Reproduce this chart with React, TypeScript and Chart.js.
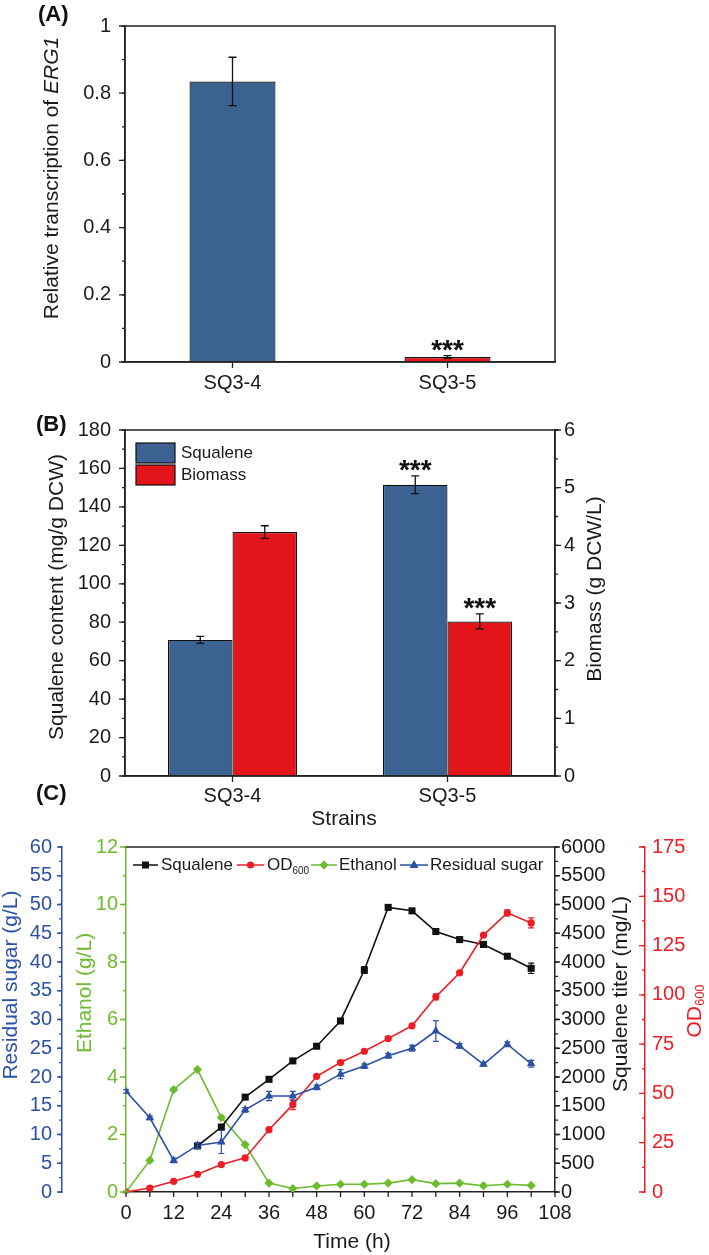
import React, { useEffect, useRef } from 'react';
import { Chart, registerables } from 'chart.js';

Chart.register(...registerables);

const FONT = '"Liberation Sans", Arial, Helvetica, sans-serif';
const TXT = '#1a1a1a';
const AXIS = '#222222';
const BAR_BLUE = '#3B6290';
const BAR_RED = '#E3151A';
const C_BLACK = '#111111';
const C_RED = '#EE1C24';
const C_GREEN = '#6DBB2E';
const C_BLUE = '#2B51A5';

// ---------- Panel A: relative transcription of ERG1
const strainsA = ['SQ3-4', 'SQ3-5'];
const erg1Transcription = [0.835, 0.015];
const erg1Error = [0.072, 0.004];
const erg1Signif = ['', '***'];

// ---------- Panel B: squalene content and biomass
const strainsB = ['SQ3-4', 'SQ3-5'];
const squaleneContent = [70.8, 151.5];
const squaleneContentError = [1.8, 4.6];
const biomassValues = [4.23, 2.68];
const biomassError = [0.11, 0.13];
const squaleneSignif = ['', '***'];
const biomassSignif = ['', '***'];

// ---------- Panel C: fermentation time course
const timeHours = [0, 6, 12, 18, 24, 30, 36, 42, 48, 54, 60, 66, 72, 78, 84, 90, 96, 102];
const squaleneTiter = [null, null, null, 800, 1130, 1650, 1960, 2280, 2535, 2975, 3860, 4950, 4890, 4530, 4390, 4305, 4100, 3890];
const squaleneTiterError = [0, 0, 0, 20, 20, 20, 20, 20, 20, 20, 60, 25, 40, 40, 40, 40, 20, 90];
const od600 = [0, 2.0, 5.4, 9.0, 13.9, 17.3, 31.6, 44.3, 58.7, 65.7, 71.4, 77.8, 84.3, 99.0, 111.2, 130.3, 141.6, 136.5];
const od600Error = [0.3, 0.3, 0.5, 0.5, 0.5, 0.5, 1.0, 2.5, 0.8, 0.8, 0.8, 0.8, 0.8, 1.5, 0.8, 0.8, 1.5, 2.5];
const ethanol = [0, 1.1, 3.56, 4.26, 2.59, 1.65, 0.31, 0.12, 0.21, 0.27, 0.27, 0.31, 0.43, 0.29, 0.31, 0.22, 0.27, 0.23];
const ethanolError = [0.03, 0.05, 0.05, 0.05, 0.05, 0.05, 0.03, 0.03, 0.03, 0.03, 0.03, 0.03, 0.03, 0.03, 0.03, 0.03, 0.03, 0.03];
const residualSugar = [17.5, 12.9, 5.5, 8.1, 8.7, 14.3, 16.7, 16.7, 18.2, 20.5, 21.9, 23.7, 25.0, 28.0, 25.4, 22.2, 25.7, 22.3];
const residualSugarError = [0.3, 0.3, 0.4, 0.5, 2.0, 0.4, 0.8, 0.8, 0.4, 0.8, 0.4, 0.4, 0.5, 1.8, 0.4, 0.3, 0.4, 0.6];

// canvas placement on the page
const TOP_A = 0, H_A = 410;
const TOP_B = 400, H_B = 440;
const TOP_C = 775, H_C = 480;

const font = (size: number, style = '') => `${style} ${size}px ${FONT}`.trim();
const plain = (v: number) => `${Math.round(v * 10) / 10}`;

type Part = { text: string; font: string; color: string; dy?: number };

function drawParts(ctx: CanvasRenderingContext2D, parts: Part[], cx: number, cy: number, rotate: boolean, align: 'center' | 'left' = 'center') {
  ctx.save();
  ctx.translate(cx, cy);
  if (rotate) ctx.rotate(-Math.PI / 2);
  let total = 0;
  parts.forEach((p) => { ctx.font = p.font; total += ctx.measureText(p.text).width; });
  let x = align === 'center' ? -total / 2 : 0;
  ctx.textBaseline = 'middle';
  ctx.textAlign = 'left';
  parts.forEach((p) => {
    ctx.font = p.font;
    ctx.fillStyle = p.color;
    ctx.fillText(p.text, x, p.dy || 0);
    x += ctx.measureText(p.text).width;
  });
  ctx.restore();
}

function drawErrorBar(ctx: CanvasRenderingContext2D, x: number, yTop: number, yBot: number, cap: number, color: string, lw: number) {
  ctx.save();
  ctx.strokeStyle = color;
  ctx.lineWidth = lw;
  ctx.beginPath();
  ctx.moveTo(x, yTop); ctx.lineTo(x, yBot);
  ctx.moveTo(x - cap, yTop); ctx.lineTo(x + cap, yTop);
  ctx.moveTo(x - cap, yBot); ctx.lineTo(x + cap, yBot);
  ctx.stroke();
  ctx.restore();
}

type TickSpec = { id: string; step: number; len: number; dir: number; color: string };

function drawScaleTicks(chart: any, specs: TickSpec[]) {
  const ctx: CanvasRenderingContext2D = chart.ctx;
  specs.forEach((s) => {
    const sc = chart.scales[s.id];
    ctx.save();
    ctx.strokeStyle = s.color;
    ctx.lineWidth = 1.3;
    ctx.beginPath();
    const n = Math.round((sc.max - sc.min) / s.step);
    for (let i = 0; i <= n; i++) {
      const v = sc.min + i * s.step;
      if (sc.isHorizontal()) {
        const x = sc.getPixelForValue(v);
        ctx.moveTo(x, sc.top); ctx.lineTo(x, sc.top + s.dir * s.len);
      } else {
        const y = sc.getPixelForValue(v);
        const x0 = sc.position === 'left' ? sc.right : sc.left;
        ctx.moveTo(x0, y); ctx.lineTo(x0 + s.dir * s.len, y);
      }
    }
    ctx.stroke();
    ctx.restore();
  });
}

function drawCategoryTicks(chart: any, len: number) {
  const ctx: CanvasRenderingContext2D = chart.ctx;
  const sc = chart.scales.x;
  ctx.save();
  ctx.strokeStyle = AXIS;
  ctx.lineWidth = 1.3;
  ctx.beginPath();
  sc.ticks.forEach((_t: any, i: number) => {
    const x = sc.getPixelForTick(i);
    ctx.moveTo(x, sc.top); ctx.lineTo(x, sc.top + len);
  });
  ctx.stroke();
  ctx.restore();
}

function drawBox(chart: any) {
  const ctx: CanvasRenderingContext2D = chart.ctx;
  const ca = chart.chartArea;
  ctx.save();
  ctx.strokeStyle = AXIS;
  ctx.lineWidth = 1.5;
  ctx.strokeRect(ca.left, ca.top, ca.right - ca.left, ca.bottom - ca.top);
  ctx.restore();
}

function drawStars(ctx: CanvasRenderingContext2D, s: string, x: number, errTop: number) {
  ctx.save();
  ctx.font = font(28, 'bold');
  ctx.fillStyle = '#111';
  ctx.textAlign = 'center';
  ctx.textBaseline = 'alphabetic';
  ctx.fillText(s, x, errTop + 3);
  ctx.restore();
}

function marker(ctx: CanvasRenderingContext2D, kind: string, x: number, y: number, color: string) {
  ctx.save();
  ctx.fillStyle = color;
  ctx.beginPath();
  if (kind === 'rect') ctx.rect(x - 3.5, y - 3.5, 7, 7);
  else if (kind === 'circle') ctx.arc(x, y, 3.6, 0, Math.PI * 2);
  else if (kind === 'diamond') { ctx.moveTo(x, y - 4.6); ctx.lineTo(x + 4.6, y); ctx.lineTo(x, y + 4.6); ctx.lineTo(x - 4.6, y); ctx.closePath(); }
  else { ctx.moveTo(x, y - 5); ctx.lineTo(x + 4.5, y + 3); ctx.lineTo(x - 4.5, y + 3); ctx.closePath(); }
  ctx.fill();
  ctx.restore();
}

const axisTicks = (size: number, color: string, padding: number, extra: any = {}) => ({
  font: { family: FONT, size },
  color,
  padding,
  autoSkip: false,
  maxRotation: 0,
  ...extra,
});
const noGrid = { display: true, drawOnChartArea: false, drawTicks: false };

// ---------------- Panel A
const decorA = {
  id: 'decorA',
  afterDatasetsDraw(chart: any) {
    const ctx = chart.ctx;
    const y = chart.scales.y;
    const meta = chart.getDatasetMeta(0);
    meta.data.forEach((bar: any, i: number) => {
      const top = y.getPixelForValue(erg1Transcription[i] + erg1Error[i]);
      const bot = y.getPixelForValue(erg1Transcription[i] - erg1Error[i]);
      drawErrorBar(ctx, bar.x, top, bot, 4, '#111', 1.3);
      if (erg1Signif[i]) drawStars(ctx, erg1Signif[i], bar.x, top);
    });
  },
  afterDraw(chart: any) {
    const ctx = chart.ctx;
    drawBox(chart);
    drawCategoryTicks(chart, 6);
    drawScaleTicks(chart, [
      { id: 'y', step: 0.1, len: 3, dir: -1, color: AXIS },
      { id: 'y', step: 0.2, len: 6, dir: -1, color: AXIS },
    ]);
    drawParts(ctx, [
      { text: 'Relative transcription of ', font: font(21), color: TXT },
      { text: 'ERG1', font: font(21, 'italic'), color: TXT },
    ], 52, 178 - TOP_A, true);
    ctx.save();
    ctx.font = font(22, 'bold');
    ctx.fillStyle = '#111';
    ctx.textBaseline = 'alphabetic';
    ctx.fillText('(A)', 38, 21 - TOP_A);
    ctx.restore();
  },
};

function configA(): any {
  return {
    type: 'bar',
    data: {
      labels: strainsA,
      datasets: [{
        data: erg1Transcription,
        backgroundColor: [BAR_BLUE, BAR_RED],
        borderColor: '#111',
        borderWidth: 1.2,
        categoryPercentage: 0.4,
        barPercentage: 1,
      }],
    },
    options: {
      responsive: false,
      animation: false,
      devicePixelRatio: 1,
      layout: { padding: { top: 20, right: 154, left: 0, bottom: 0 } },
      plugins: { legend: { display: false }, tooltip: { enabled: false } },
      scales: {
        x: {
          grid: noGrid,
          border: { display: true, color: AXIS, width: 1.5 },
          ticks: axisTicks(20, TXT, 9),
          afterFit: (s: any) => { s.height = H_A - 362; },
        },
        y: {
          min: 0, max: 1,
          grid: noGrid,
          border: { display: true, color: AXIS, width: 1.5 },
          ticks: axisTicks(20, TXT, 14, { stepSize: 0.2, callback: plain }),
          afterFit: (s: any) => { s.width = 125; },
        },
      },
    },
    plugins: [decorA],
  };
}

// ---------------- Panel B
const decorB = {
  id: 'decorB',
  afterDatasetsDraw(chart: any) {
    const ctx = chart.ctx;
    const y = chart.scales.y;
    const y2 = chart.scales.y2;
    chart.getDatasetMeta(0).data.forEach((bar: any, i: number) => {
      const top = y.getPixelForValue(squaleneContent[i] + squaleneContentError[i]);
      const bot = y.getPixelForValue(squaleneContent[i] - squaleneContentError[i]);
      drawErrorBar(ctx, bar.x, top, bot, 4, '#111', 1.3);
      if (squaleneSignif[i]) drawStars(ctx, squaleneSignif[i], bar.x, top);
    });
    chart.getDatasetMeta(1).data.forEach((bar: any, i: number) => {
      const top = y2.getPixelForValue(biomassValues[i] + biomassError[i]);
      const bot = y2.getPixelForValue(biomassValues[i] - biomassError[i]);
      drawErrorBar(ctx, bar.x, top, bot, 4, '#111', 1.3);
      if (biomassSignif[i]) drawStars(ctx, biomassSignif[i], bar.x, top);
    });
  },
  afterDraw(chart: any) {
    const ctx = chart.ctx;
    drawBox(chart);
    drawCategoryTicks(chart, 6);
    drawScaleTicks(chart, [
      { id: 'y', step: 10, len: 3, dir: -1, color: AXIS },
      { id: 'y', step: 20, len: 6, dir: -1, color: AXIS },
      { id: 'y2', step: 0.5, len: 3, dir: 1, color: AXIS },
      { id: 'y2', step: 1, len: 6, dir: 1, color: AXIS },
    ]);
    drawParts(ctx, [{ text: 'Squalene content (mg/g DCW)', font: font(21), color: TXT }], 57, 597 - TOP_B, true);
    drawParts(ctx, [{ text: 'Biomass (g DCW/L)', font: font(21), color: TXT }], 595, 589 - TOP_B, true);
    drawParts(ctx, [{ text: 'Strains', font: font(21), color: TXT }], 344, 819 - TOP_B, false);
    // legend
    const items = [
      { label: 'Squalene', color: BAR_BLUE, y: 443 },
      { label: 'Biomass', color: BAR_RED, y: 465 },
    ];
    items.forEach((it) => {
      ctx.save();
      ctx.fillStyle = it.color;
      ctx.fillRect(136, it.y - TOP_B, 39, 20);
      ctx.strokeStyle = '#111';
      ctx.lineWidth = 1.2;
      ctx.strokeRect(136, it.y - TOP_B, 39, 20);
      ctx.restore();
      drawParts(ctx, [{ text: it.label, font: font(17), color: TXT }], 181, it.y + 10 - TOP_B, false, 'left');
    });
    ctx.save();
    ctx.font = font(22, 'bold');
    ctx.fillStyle = '#111';
    ctx.textBaseline = 'alphabetic';
    ctx.fillText('(B)', 36, 431 - TOP_B);
    ctx.restore();
  },
};

function configB(): any {
  return {
    type: 'bar',
    data: {
      labels: strainsB,
      datasets: [
        {
          label: 'Squalene',
          data: squaleneContent,
          yAxisID: 'y',
          backgroundColor: BAR_BLUE,
          borderColor: '#111',
          borderWidth: 1.2,
          categoryPercentage: 0.6,
          barPercentage: 1,
        },
        {
          label: 'Biomass',
          data: biomassValues,
          yAxisID: 'y2',
          backgroundColor: BAR_RED,
          borderColor: '#111',
          borderWidth: 1.2,
          categoryPercentage: 0.6,
          barPercentage: 1,
        },
      ],
    },
    options: {
      responsive: false,
      animation: false,
      devicePixelRatio: 1,
      layout: { padding: { top: 30, right: 0, left: 0, bottom: 0 } },
      plugins: { legend: { display: false }, tooltip: { enabled: false } },
      scales: {
        x: {
          grid: noGrid,
          border: { display: true, color: AXIS, width: 1.5 },
          ticks: axisTicks(20, TXT, 8),
          afterFit: (s: any) => { s.height = H_B - (776 - TOP_B); },
        },
        y: {
          position: 'left',
          min: 0, max: 180,
          grid: noGrid,
          border: { display: true, color: AXIS, width: 1.5 },
          ticks: axisTicks(20, TXT, 14, { stepSize: 20, callback: plain }),
          afterFit: (s: any) => { s.width = 125; },
        },
        y2: {
          position: 'right',
          min: 0, max: 6,
          grid: noGrid,
          border: { display: true, color: AXIS, width: 1.5 },
          ticks: axisTicks(20, TXT, 9, { stepSize: 1, callback: plain }),
          afterFit: (s: any) => { s.width = 154; },
        },
      },
    },
    plugins: [decorB],
  };
}

// ---------------- Panel C
const pts = (xs: number[], ys: (number | null)[]) =>
  xs.map((x, i) => ({ x, y: ys[i] })).filter((p) => p.y !== null);

const decorC = {
  id: 'decorC',
  afterDatasetsDraw(chart: any) {
    const ctx = chart.ctx;
    const x = chart.scales.x;
    const groups = [
      { vals: squaleneTiter, errs: squaleneTiterError, id: 'yBlack', color: C_BLACK },
      { vals: od600, errs: od600Error, id: 'yRed', color: C_RED },
      { vals: ethanol, errs: ethanolError, id: 'yGreen', color: C_GREEN },
      { vals: residualSugar, errs: residualSugarError, id: 'yBlue', color: C_BLUE },
    ];
    groups.forEach((g) => {
      const sc = chart.scales[g.id];
      timeHours.forEach((t, i) => {
        const v = g.vals[i];
        if (v === null || !g.errs[i]) return;
        const px = x.getPixelForValue(t);
        drawErrorBar(ctx, px, sc.getPixelForValue(v + g.errs[i]), sc.getPixelForValue(v - g.errs[i]), 3, g.color, 1.2);
      });
    });
  },
  afterDraw(chart: any) {
    const ctx = chart.ctx;
    const ca = chart.chartArea;
    ctx.save();
    ctx.strokeStyle = AXIS;
    ctx.lineWidth = 1.5;
    ctx.beginPath();
    ctx.moveTo(ca.left, ca.top);
    ctx.lineTo(ca.right, ca.top);
    ctx.stroke();
    ctx.restore();
    drawScaleTicks(chart, [
      { id: 'x', step: 6, len: 5, dir: 1, color: AXIS },
      { id: 'yBlue', step: 2.5, len: 3, dir: -1, color: C_BLUE },
      { id: 'yBlue', step: 5, len: 5, dir: -1, color: C_BLUE },
      { id: 'yGreen', step: 1, len: 3, dir: -1, color: C_GREEN },
      { id: 'yGreen', step: 2, len: 6, dir: -1, color: C_GREEN },
      { id: 'yBlack', step: 250, len: 3, dir: 1, color: AXIS },
      { id: 'yBlack', step: 500, len: 5, dir: 1, color: AXIS },
      { id: 'yRed', step: 12.5, len: 3, dir: -1, color: C_RED },
      { id: 'yRed', step: 25, len: 6, dir: -1, color: C_RED },
    ]);
    // axis titles
    drawParts(ctx, [{ text: 'Residual sugar (g/L)', font: font(21), color: C_BLUE }], 11, 985 - TOP_C, true);
    drawParts(ctx, [{ text: 'Ethanol (g/L)', font: font(21), color: C_GREEN }], 85, 993 - TOP_C, true);
    drawParts(ctx, [{ text: 'Squalene titer (mg/L)', font: font(21), color: TXT }], 621, 994 - TOP_C, true);
    drawParts(ctx, [
      { text: 'OD', font: font(21), color: C_RED },
      { text: '600', font: font(13), color: C_RED, dy: 5 },
    ], 695, 1011 - TOP_C, true);
    drawParts(ctx, [{ text: 'Time (h)', font: font(21), color: TXT }], 352, 1242 - TOP_C, false);
    // legend
    const ly = 865 - TOP_C;
    const leg = [
      { x0: 133, x1: 158, kind: 'rect', color: C_BLACK, parts: [{ text: 'Squalene', font: font(17), color: TXT }], tx: 161 },
      { x0: 237, x1: 264, kind: 'circle', color: C_RED, parts: [{ text: 'OD', font: font(17), color: TXT }, { text: '600', font: font(10), color: TXT, dy: 6 }], tx: 267 },
      { x0: 311, x1: 337, kind: 'diamond', color: C_GREEN, parts: [{ text: 'Ethanol', font: font(17), color: TXT }], tx: 339 },
      { x0: 400, x1: 428, kind: 'triangle', color: C_BLUE, parts: [{ text: 'Residual sugar', font: font(17), color: TXT }], tx: 430 },
    ];
    leg.forEach((l) => {
      ctx.save();
      ctx.strokeStyle = l.color;
      ctx.lineWidth = 1.5;
      ctx.beginPath();
      ctx.moveTo(l.x0, ly); ctx.lineTo(l.x1, ly);
      ctx.stroke();
      ctx.restore();
      marker(ctx, l.kind, (l.x0 + l.x1) / 2, ly, l.color);
      drawParts(ctx, l.parts as Part[], l.tx, ly, false, 'left');
    });
    ctx.save();
    ctx.font = font(22, 'bold');
    ctx.fillStyle = '#111';
    ctx.textBaseline = 'alphabetic';
    ctx.fillText('(C)', 36, 800 - TOP_C);
    ctx.restore();
  },
};

function configC(): any {
  const line = (label: string, data: any[], yAxisID: string, color: string, pointStyle: string, r: number, order: number) => ({
    label, data, yAxisID,
    borderColor: color, backgroundColor: color,
    pointBackgroundColor: color, pointBorderColor: color,
    pointStyle, pointRadius: r, pointBorderWidth: 0,
    borderWidth: 1.6, tension: 0, fill: false, order,
  });
  return {
    type: 'line',
    data: {
      datasets: [
        line('Squalene', pts(timeHours, squaleneTiter), 'yBlack', C_BLACK, 'rect', 5, 2),
        line('OD600', pts(timeHours, od600), 'yRed', C_RED, 'circle', 3.6, 1),
        line('Ethanol', pts(timeHours, ethanol), 'yGreen', C_GREEN, 'rectRot', 4.6, 3),
        line('Residual sugar', pts(timeHours, residualSugar), 'yBlue', C_BLUE, 'triangle', 5, 0),
      ],
    },
    options: {
      responsive: false,
      animation: false,
      devicePixelRatio: 1,
      layout: { padding: { top: 847 - TOP_C, right: 0, left: 0, bottom: 0 } },
      plugins: { legend: { display: false }, tooltip: { enabled: false } },
      scales: {
        x: {
          type: 'linear', min: 0, max: 108,
          grid: noGrid,
          border: { display: true, color: AXIS, width: 1.5 },
          ticks: axisTicks(20, TXT, 9, { stepSize: 12, callback: plain }),
          afterFit: (s: any) => { s.height = H_C - (1192 - TOP_C); },
        },
        yBlue: {
          position: 'left', weight: 1, min: 0, max: 60,
          grid: noGrid,
          border: { display: true, color: C_BLUE, width: 1.5 },
          ticks: axisTicks(20, C_BLUE, 10, { stepSize: 5, callback: plain }),
          afterFit: (s: any) => { s.width = 62; },
        },
        yGreen: {
          position: 'left', weight: 0, min: 0, max: 12,
          grid: noGrid,
          border: { display: true, color: C_GREEN, width: 1.5 },
          ticks: axisTicks(20, C_GREEN, 8, { stepSize: 2, callback: plain }),
          afterFit: (s: any) => { s.width = 64; },
        },
        yBlack: {
          position: 'right', weight: 0, min: 0, max: 6000,
          grid: noGrid,
          border: { display: true, color: AXIS, width: 1.5 },
          ticks: axisTicks(20, TXT, 6, { stepSize: 500, callback: plain }),
          afterFit: (s: any) => { s.width = 90; },
        },
        yRed: {
          position: 'right', weight: 1, min: 0, max: 175,
          grid: noGrid,
          border: { display: true, color: C_RED, width: 1.5 },
          ticks: axisTicks(20, C_RED, 7, { stepSize: 25, callback: plain }),
          afterFit: (s: any) => { s.width = 64; },
        },
      },
    },
    plugins: [decorC],
  };
}

export default function App() {
  const aRef = useRef<HTMLCanvasElement>(null);
  const bRef = useRef<HTMLCanvasElement>(null);
  const cRef = useRef<HTMLCanvasElement>(null);

  useEffect(() => {
    const charts = [
      new Chart(aRef.current as HTMLCanvasElement, configA()),
      new Chart(bRef.current as HTMLCanvasElement, configB()),
      new Chart(cRef.current as HTMLCanvasElement, configC()),
    ];
    return () => charts.forEach((c) => c.destroy());
  }, []);

  const cs = (top: number): React.CSSProperties => ({ position: 'absolute', left: 0, top });
  return (
    <div style={{ position: 'absolute', left: 0, top: 0, width: 709, height: 1255, background: '#ffffff', overflow: 'hidden' }}>
      <canvas ref={aRef} width={709} height={H_A} style={cs(TOP_A)} />
      <canvas ref={bRef} width={709} height={H_B} style={cs(TOP_B)} />
      <canvas ref={cRef} width={709} height={H_C} style={cs(TOP_C)} />
    </div>
  );
}
